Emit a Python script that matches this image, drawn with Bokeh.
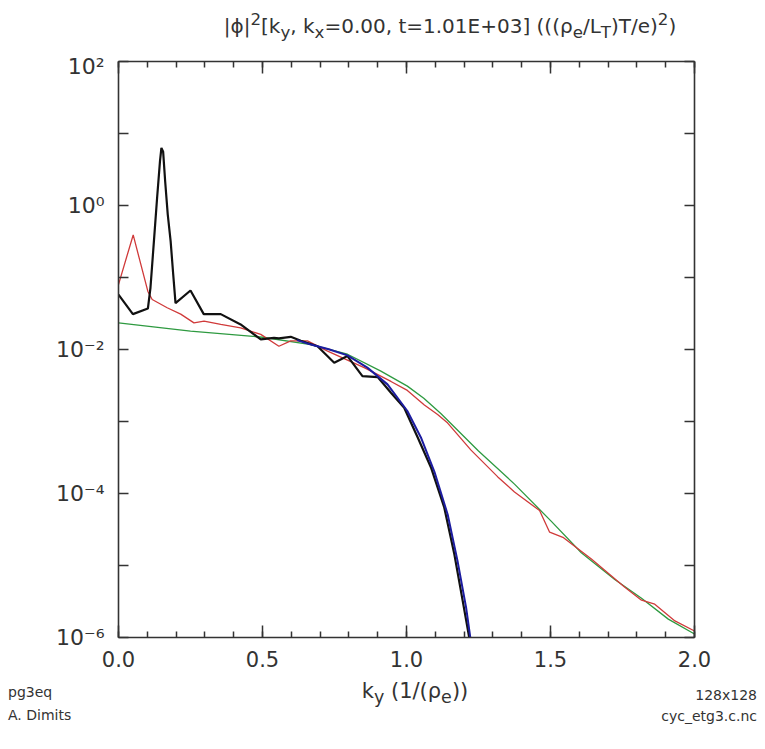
from bokeh.plotting import figure
from bokeh.models import (LinearAxis, LogAxis, FixedTicker, CustomJSTickFormatter,
                          NumeralTickFormatter, Range1d, Div, CustomLabelingPolicy)
from bokeh.layouts import column
from bokeh.embed import file_html
from bokeh.resources import INLINE

# ---------------- data ----------------
ky_black = [0.0, 0.05, 0.102, 0.111, 0.123, 0.134, 0.144, 0.149, 0.155, 0.162, 0.171,
            0.181, 0.19, 0.198, 0.25, 0.296, 0.355, 0.424, 0.494, 0.54, 0.557, 0.598,
            0.633, 0.691, 0.749, 0.795, 0.847, 0.90, 0.946, 0.992, 1.039, 1.085, 1.131,
            1.166, 1.195, 1.222]
phi_black = [0.058, 0.031, 0.037, 0.072, 0.32, 1.27, 4.1, 6.3, 5.6, 2.17, 0.75,
             0.32, 0.11, 0.044, 0.066, 0.031, 0.031, 0.0223, 0.0138, 0.0145, 0.0143, 0.015,
             0.0132, 0.0111, 0.00654, 0.0081, 0.00428, 0.00414, 0.00251, 0.00155, 6.0e-4,
             2.3e-4, 6.4e-5, 1.44e-5, 3.25e-6, 8e-7]

ky_blue = [0.62, 0.668, 0.73, 0.795, 0.864, 0.934, 1.003, 1.05, 1.097, 1.143, 1.177,
           1.207, 1.225]
phi_blue = [0.0135, 0.0117, 0.0101, 0.0083, 0.0056, 0.00328, 0.0014, 6e-4, 2.0e-4,
            5.1e-5, 1.17e-5, 2.6e-6, 8e-7]

ky_red = [0.0, 0.051, 0.102, 0.117, 0.169, 0.216, 0.262, 0.297, 0.355, 0.424, 0.494,
          0.557, 0.598, 0.656, 0.726, 0.853, 0.946, 1.003, 1.062, 1.108, 1.143, 1.224,
          1.317, 1.375, 1.462, 1.497, 1.543, 1.642, 1.758, 1.816, 1.862, 1.932, 2.0]
phi_red = [0.08, 0.39, 0.064, 0.0495, 0.038, 0.031, 0.0234, 0.0248, 0.0223, 0.020,
           0.0162, 0.0111, 0.0132, 0.0132, 0.0095, 0.0056, 0.0036, 0.0027, 0.0017,
           0.00125, 0.00095, 4.0e-4, 1.7e-4, 1.05e-4, 5.8e-5, 2.9e-5, 2.46e-5, 1.23e-5,
           5.0e-6, 3.3e-6, 2.9e-6, 1.7e-6, 1.23e-6]

ky_green = [0.0, 0.25, 0.5, 0.668, 0.795, 0.911, 1.003, 1.06, 1.12, 1.25, 1.375, 1.503,
            1.607, 1.723, 1.816, 1.909, 2.0]
phi_green = [0.0234, 0.018, 0.0148, 0.0117, 0.0086, 0.0050, 0.0031, 0.0021, 0.00128,
             3.9e-4, 1.35e-4, 4.1e-5, 1.5e-5, 6.4e-6, 3.5e-6, 1.8e-6, 1.12e-6]

x_major = [0.0, 0.5, 1.0, 1.5, 2.0]
x_minor = [round(0.1 * i, 1) for i in range(21)]
y_major = [1e-6, 1e-4, 1e-2, 1e0, 1e2]
y_minor = [1e-5, 1e-3, 1e-1, 1e1]

FONT = "DejaVu Sans"
TXT = "#333333"
W = 760

# ---------------- figure ----------------
p = figure(width=W, height=624, x_range=Range1d(0, 2), y_range=Range1d(1e-6, 1e2),
           y_axis_type="log", output_backend="svg", toolbar_location=None,
           min_border_left=118, min_border_right=W - 694, min_border_top=8,
           min_border_bottom=40)
p.grid.visible = False
p.outline_line_color = None
p.background_fill_color = "white"
p.border_fill_color = "white"

p.line(ky_green, phi_green, line_color="#2e9a40", line_width=1.3)
p.line(ky_red, phi_red, line_color="#d03a3a", line_width=1.3)
p.line(ky_black, phi_black, line_color="#111111", line_width=2.2)
p.line(ky_blue, phi_blue, line_color="#1c1ca0", line_width=2.0)

sup_js = """
const sup = {"-":"\u207b","0":"\u2070","1":"\u00b9","2":"\u00b2","3":"\u00b3",
             "4":"\u2074","5":"\u2075","6":"\u2076","7":"\u2077","8":"\u2078","9":"\u2079"};
const e = Math.round(Math.log10(tick));
return "10" + String(e).split("").map(c => sup[c]).join("");
"""

bottom_ax = p.below[0]
left_ax = p.left[0]
top_ax = LinearAxis()
right_ax = LogAxis()
p.add_layout(top_ax, "above")
p.add_layout(right_ax, "right")

for ax in [bottom_ax, top_ax]:
    ax.ticker = FixedTicker(ticks=x_major, minor_ticks=x_minor)
    ax.formatter = NumeralTickFormatter(format="0.0")
    ax.major_tick_in = 12
    ax.minor_tick_in = 6

for ax in [left_ax, right_ax]:
    ax.ticker = FixedTicker(ticks=y_major, minor_ticks=y_minor)
    ax.formatter = CustomJSTickFormatter(code=sup_js)
    ax.major_tick_in = 10
    ax.minor_tick_in = 10

for ax in [bottom_ax, top_ax, left_ax, right_ax]:
    ax.major_tick_out = 0
    ax.minor_tick_out = 0
    ax.axis_line_color = "#333333"
    ax.axis_line_width = 1.6
    ax.major_tick_line_color = "#333333"
    ax.minor_tick_line_color = "#333333"
    ax.major_tick_line_width = 1.5
    ax.minor_tick_line_width = 1.5
    ax.major_label_text_font = FONT
    ax.major_label_text_color = TXT
    ax.major_label_text_font_size = "21px"

left_ax.major_label_text_font_size = "22px"
bottom_ax.major_label_standoff = 13
left_ax.major_label_standoff = 14
for ax in [top_ax, right_ax]:
    ax.major_label_text_font_size = "1px"
    ax.major_label_standoff = 0
    ax.major_label_policy = CustomLabelingPolicy(code="return []")

# ---------------- title and footer ----------------
title_html = (
    f'<div style="width:{W}px;height:43px;box-sizing:border-box;padding-left:130px;'
    'text-align:center;font-family:\'DejaVu Sans\';font-size:20px;color:#333;'
    'line-height:30px;white-space:nowrap;">'
    '|&#981;|<sup>2</sup>[k<sub>y</sub>, k<sub>x</sub>=0.00, t=1.01E+03] '
    '(((&#961;<sub>e</sub>/L<sub>T</sub>)T/e)<sup>2</sup>)</div>'
)
title_div = Div(text=title_html, width=W, height=43)

footer_html = (
    f'<div style="position:relative;width:{W}px;height:56px;font-family:\'DejaVu Sans\';'
    'color:#333;white-space:nowrap;">'
    f'<div style="position:absolute;left:0;top:-4px;width:{W}px;box-sizing:border-box;'
    'padding-left:60px;text-align:center;font-size:21px;line-height:26px;">'
    'k<sub>y</sub> (1/(&#961;<sub>e</sub>))</div>'
    '<div style="position:absolute;left:3px;top:2px;font-size:14px;line-height:16px;">pg3eq</div>'
    '<div style="position:absolute;left:3px;top:25px;font-size:14px;line-height:16px;">A. Dimits</div>'
    '<div style="position:absolute;right:8px;top:5px;font-size:14px;line-height:16px;">128x128</div>'
    '<div style="position:absolute;right:8px;top:26px;font-size:14px;line-height:16px;">cyc_etg3.c.nc</div>'
    '</div>'
)
footer_div = Div(text=footer_html, width=W, height=56)

layout = column(title_div, p, footer_div, spacing=0)

open("out.html", "w").write(file_html(layout, INLINE))
